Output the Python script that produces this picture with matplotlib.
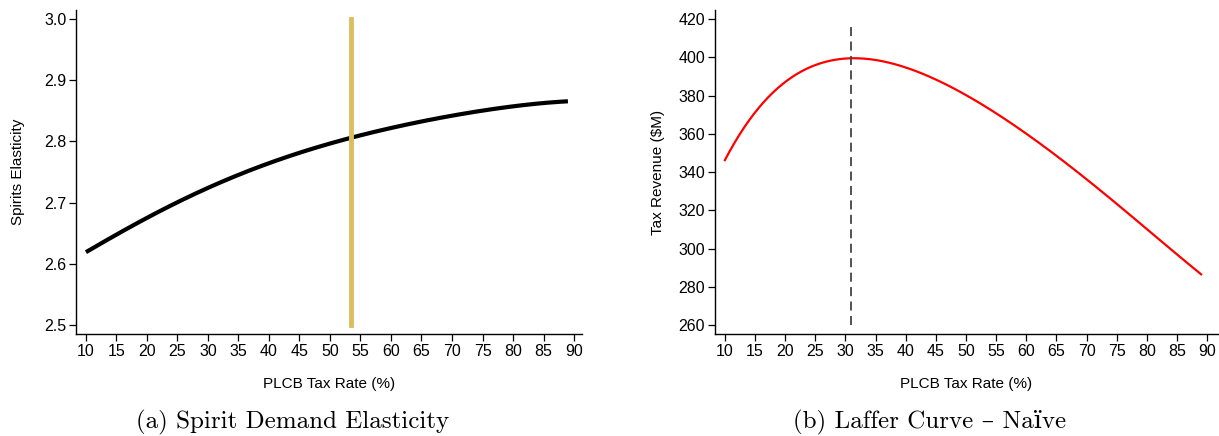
import numpy as np
import matplotlib
matplotlib.use('Agg')
import matplotlib.pyplot as plt

# tax rate grid (%)
tax_rate = [10, 15, 20, 25, 30, 35, 40, 45, 50, 55, 60, 65, 70, 75, 80, 85, 89]

# panel (a): spirits demand elasticity
elasticity = [2.619, 2.648, 2.675, 2.700, 2.725, 2.745, 2.764, 2.782, 2.797,
              2.810, 2.821, 2.832, 2.843, 2.851, 2.857, 2.862, 2.866]
current_rate = 53.4

# panel (b): naive laffer curve, tax revenue ($M)
revenue = [346.3, 370.8, 387.4, 396.0, 399.4, 398.4, 394.4, 388.3, 380.4,
           370.8, 360.4, 348.2, 336.0, 323.4, 309.8, 297.6, 286.2]
peak_rate = 31

x_ticks = list(range(10, 95, 5))

plt.rcParams['font.family'] = ['Liberation Sans', 'DejaVu Sans']
plt.rcParams['font.size'] = 11

fig = plt.figure(figsize=(12.19, 4.36), dpi=100)
ax1 = fig.add_axes([0.0623, 0.2339, 0.4151, 0.7431])
ax2 = fig.add_axes([0.5865, 0.2339, 0.4127, 0.7431])


def smooth(x, y):
    """polynomial fit through the read-off points, for a smooth line"""
    xs = np.linspace(x[0], x[-1], 400)
    coef = np.polyfit(x, y, 5)
    return xs, np.polyval(coef, xs)


def style_axis(ax):
    for side in ['top', 'right']:
        ax.spines[side].set_visible(False)
    ax.spines['left'].set_linewidth(1.0)
    ax.spines['bottom'].set_linewidth(1.0)
    ax.tick_params(direction='out', length=5, width=0.9, labelsize=11.5, pad=2)
    ax.set_xticks(x_ticks)
    ax.set_xlabel('PLCB Tax Rate (%)', fontsize=11, labelpad=13)


# (a) elasticity
xs, ys = smooth(tax_rate, elasticity)
ax1.plot(xs, ys, color='black', lw=3, solid_capstyle='butt')
ax1.plot([current_rate, current_rate], [2.5, 3.0], color='#DBBF5E', lw=3.5)
ax1.set_xlim(8.36, 91.3)
ax1.set_ylim(2.4853, 3.0147)
ax1.set_yticks([2.5, 2.6, 2.7, 2.8, 2.9, 3.0])
ax1.set_yticklabels(['2.5', '2.6', '2.7', '2.8', '2.9', '3.0'])
ax1.set_ylabel('Spirits Elasticity', fontsize=11, labelpad=14)
style_axis(ax1)

# (b) laffer curve
xs, ys = smooth(tax_rate, revenue)
ax2.plot(xs, ys, color='red', lw=1.6)
ax2.plot([peak_rate, peak_rate], [260, 418], color='#444444', lw=1.3,
         dashes=(5, 3))
ax2.set_xlim(8.35, 91.8)
ax2.set_ylim(255.3, 424.7)
ax2.set_yticks(range(260, 421, 20))
ax2.set_ylabel('Tax Revenue ($M)', fontsize=11, labelpad=10)
style_axis(ax2)

# captions
cap_font = ['cmr10', 'DejaVu Serif']
fig.text(293 / 1219, 1 - 422 / 436, '(a) Spirit Demand Elasticity',
         ha='center', va='center', fontsize=18, family=cap_font)
fig.text(930 / 1219, 1 - 422 / 436, '(b) Laffer Curve \u2013 Na\u00efve',
         ha='center', va='center', fontsize=18, family=cap_font)

fig.savefig('out.png', dpi=100)
